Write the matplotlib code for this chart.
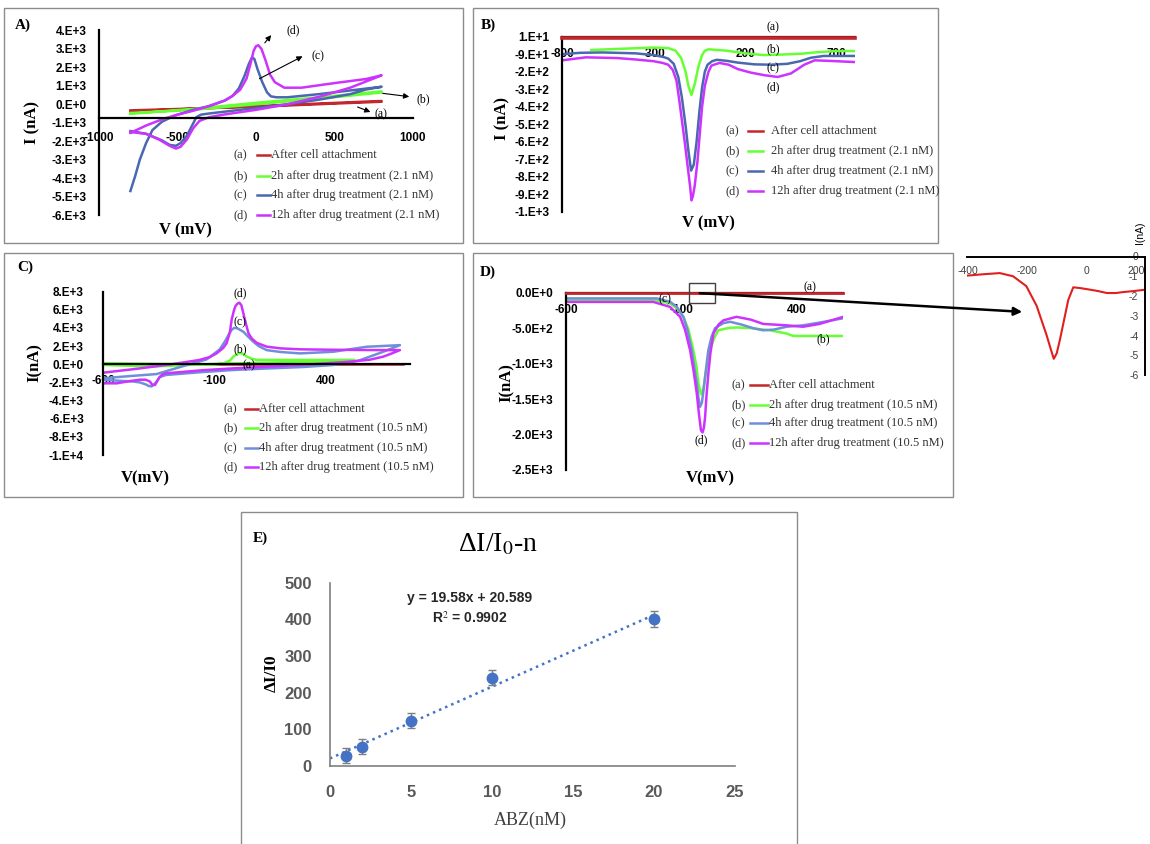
import numpy as np
import matplotlib
matplotlib.use('Agg')
import matplotlib.pyplot as plt
from matplotlib.lines import Line2D
from matplotlib.patches import Rectangle, FancyArrowPatch

plt.rcParams['font.family'] = 'Liberation Serif'
plt.rcParams['mathtext.fontset'] = 'stix'

W, H = 1150, 844
SERIF = 'Liberation Serif'
SANS = 'Liberation Sans'

RED = '#c3262b'
GREEN = '#66ff33'
BLUE = '#4a68b0'
BLUE_LT = '#6f90d8'
PINK = '#cc33ff'

TAGS = ['(a)', '(b)', '(c)', '(d)']

# ---------------- data ----------------
# A) CV, 2.1 nM
a_red_v = [-800, 0, 800, 800, 0, -800]
a_red_i = [-380, -100, 180, 140, -130, -330]
a_green_v = [-800, -400, 0, 400, 800, 800, 400, 0, -400, -800]
a_green_i = [-520, -250, 80, 380, 700, 640, 300, 0, -300, -470]
a_blue_v = [-800, -770, -740, -700, -660, -600, -520, -400, -300, -200, -150, -110, -75, -45, -25, -10,
            10, 40, 70, 95, 130, 200, 400, 600, 800,
            700, 600, 400, 200, 0, -200, -300, -350, -380, -410, -440, -480, -510, -550, -600, -700, -800]
a_blue_i = [-4700, -3900, -3000, -2100, -1400, -950, -620, -300, -100, 200, 450, 850, 1500, 2200, 2550, 2450,
            1900, 1200, 650, 430, 380, 380, 550, 750, 950,
            800, 550, 250, 0, -200, -400, -500, -560, -700, -1200, -1700, -2100, -2250, -2200, -1950, -1600, -1450]
a_pink_v = [-800, -700, -600, -500, -400, -300, -200, -150, -100, -60, -35, -15, 0, 15, 35, 60, 90, 120, 180,
            290, 500, 700, 800,
            750, 600, 400, 200, 0, -200, -300, -360, -400, -440, -480, -510, -550, -620, -700, -800]
a_pink_i = [-1550, -1150, -820, -560, -350, -100, 200, 450, 800, 1400, 2200, 2900, 3150, 3200, 3000, 2400,
            1600, 1200, 900, 900, 1150, 1370, 1570,
            1400, 900, 400, 0, -300, -550, -700, -900, -1300, -1900, -2300, -2400, -2250, -1900, -1600, -1500]

# B) DPV, 2.1 nM
b_red_v = [-800, 800]
b_red_i = [0, 0]
b_green_v = [-640, -500, -300, -220, -180, -150, -125, -110, -93, -75, -55, -35, -20, 0, 100, 200, 300, 400,
             500, 600, 700, 800]
b_green_i = [-66, -60, -52, -55, -70, -110, -190, -270, -323, -260, -160, -95, -70, -62, -70, -85, -95, -92,
             -88, -78, -72, -72]
b_blue_v = [-800, -700, -580, -400, -300, -250, -220, -190, -165, -145, -125, -110, -95, -80, -65, -50, -35,
            -20, -5, 20, 45, 100, 160, 250, 340, 430, 500, 560, 630, 700, 800]
b_blue_i = [-90, -82, -80, -85, -95, -105, -115, -145, -220, -340, -500, -640, -755, -720, -590, -420, -280,
            -190, -150, -130, -122, -128, -138, -148, -150, -145, -130, -110, -100, -100, -100]
b_pink_v = [-800, -670, -500, -400, -300, -250, -220, -195, -175, -160, -145, -130, -115, -100, -93, -85, -75,
            -60, -47, -35, -20, 0, 16, 60, 110, 160, 230, 305, 378, 450, 523, 580, 632, 700, 800]
b_pink_i = [-125, -108, -112, -120, -130, -140, -150, -180, -240, -350, -470, -590, -720, -850, -925, -900,
            -840, -700, -535, -390, -270, -190, -155, -140, -150, -175, -195, -210, -220, -200, -150, -125,
            -127, -130, -135]

# C) CV, 10.5 nM
c_red_v = [-600, 750]
c_red_i = [20, 20]
c_green_v = [-600, -400, -200, -117, -60, -30, -14, 5, 17, 30, 46, 70, 92, 200, 400, 530,
             530, 400, 200, 0, -200, -380, -500, -600]
c_green_i = [110, 60, 0, -70, 100, 400, 850, 1150, 1250, 1150, 850, 600, 480, 480, 480, 480,
             380, 300, 200, 110, -50, -250, -150, -70]
c_blue_v = [-600, -480, -360, -240, -135, -76, -50, -31, -20, -9, 5, 31, 50, 76, 100, 136, 200, 286, 436, 586,
            736, 661, 550, 436, 300, 150, -14, -150, -318, -345, -360, -372, -382, -395, -405, -435, -465,
            -540, -600]
c_blue_i = [-1540, -1300, -1080, -200, 530, 1630, 2600, 3470, 3850, 4020, 3950, 3580, 3100, 2480, 2000, 1560,
            1350, 1200, 1380, 1930, 2110, 1380, 400, -80, -300, -450, -630, -850, -1180, -1400, -1900, -2250,
            -2440, -2400, -2260, -2000, -1900, -1800, -1720]
c_pink_v = [-600, -450, -318, -240, -168, -120, -90, -60, -45, -30, -22, -12, -5, 5, 13, 22, 31, 42, 54, 70,
            92, 136, 200, 286, 436, 586, 736,
            700, 661, 600, 511, 400, 286, 150, -14, -150, -318, -335, -348, -358, -367, -380, -390, -410, -435,
            -480, -540, -600]
c_pink_i = [-925, -500, -80, 200, 470, 800, 1200, 1800, 2300, 3500, 4900, 5900, 6400, 6700, 6790, 6500, 5600,
            4500, 3400, 2800, 2350, 1940, 1750, 1650, 1600, 1570, 1560,
            1200, 840, 500, 290, 100, -80, -250, -450, -650, -1000, -1150, -1450, -1900, -2280, -2250, -1900,
            -1700, -1700, -1850, -2100, -2100]

# D) DPV, 10.5 nM
d_red_v = [-600, 600]
d_red_i = [0, 0]
d_green_v = [-600, -222, -150, -120, -92, -70, -49, -35, -27, -16, -5, 2, 12, 23, 40, 59, 100, 138, 200, 282,
             354, 383, 450, 600]
d_green_i = [-103, -100, -150, -220, -340, -520, -810, -1050, -1280, -1430, -1350, -1190, -1000, -810, -650,
             -530, -500, -490, -500, -530, -575, -610, -610, -610]
d_blue_v = [-600, -208, -150, -120, -92, -75, -56, -45, -34, -27, -20, -12, -5, 5, 16, 30, 45, 80, 110, 160,
            210, 253, 300, 354, 426, 500, 600]
d_blue_i = [-80, -80, -127, -200, -340, -520, -810, -1050, -1280, -1480, -1610, -1550, -1380, -1100, -810,
            -620, -500, -430, -410, -450, -500, -530, -520, -480, -460, -420, -360]
d_pink_v = [-600, -222, -150, -106, -85, -63, -48, -34, -25, -16, -9, -3, 2, 8, 16, 25, 38, 60, 81, 138, 200,
            253, 354, 426, 498, 600]
d_pink_i = [-130, -130, -200, -340, -520, -810, -1100, -1420, -1700, -1940, -1970, -1900, -1750, -1450,
            -1140, -850, -575, -450, -390, -340, -380, -440, -460, -480, -440, -340]

# zoomed inset of (a) in D
z_v = [-405, -350, -293, -248, -203, -168, -134, -120, -110, -100, -89, -75, -61, -44, -20, 13, 40, 70, 100,
       126, 160, 200]
z_i = [-0.97, -0.9, -0.84, -1.0, -1.5, -2.5, -4.0, -4.7, -5.18, -4.9, -4.2, -3.2, -2.2, -1.56, -1.6, -1.68,
       -1.75, -1.85, -1.85, -1.8, -1.75, -1.68]

# E) calibration
abz_nm = [1, 2, 5, 10, 20]
di_i0 = [28, 53, 124, 241, 401]
di_err = [21, 20, 20, 20, 22]
fit_slope = 19.58
fit_icpt = 20.589

legend_21 = ['After cell attachment', '2h after drug treatment (2.1 nM)',
             '4h after drug treatment (2.1 nM)', '12h after drug treatment (2.1 nM)']
legend_105 = ['After cell attachment', '2h after drug treatment (10.5 nM)',
              '4h after drug treatment (10.5 nM)', '12h after drug treatment (10.5 nM)']


def P(x, y):
    # pixel (from top-left) -> figure fraction
    return (x / W, 1 - y / H)


def px_axes(fig, x0, x1, y0, y1):
    return fig.add_axes([x0 / W, 1 - y1 / H, (x1 - x0) / W, (y1 - y0) / H])


def excel_axes(ax, xlim, ylim, xcross, xticks, yticks, ylabels, xpad, ypad, fs=8.5):
    ax.set_facecolor('none')
    ax.set_xlim(*xlim)
    ax.set_ylim(*ylim)
    ax.spines['top'].set_visible(False)
    ax.spines['right'].set_visible(False)
    ax.spines['bottom'].set_position(('data', xcross))
    ax.spines['left'].set_position(('data', xlim[0]))
    for s in ['bottom', 'left']:
        ax.spines[s].set_linewidth(1.6)
    ax.set_xticks(xticks, [str(t) for t in xticks], fontfamily=SANS, fontweight='bold', fontsize=fs)
    ax.set_yticks(yticks, ylabels, fontfamily=SANS, fontweight='bold', fontsize=fs)
    ax.tick_params(axis='x', length=0, pad=xpad)
    ax.tick_params(axis='y', length=0, pad=ypad)


def ftext(fig, x, y, s, fs=8.5, **kw):
    kw.setdefault('ha', 'center')
    kw.setdefault('va', 'center')
    kw.setdefault('fontfamily', SERIF)
    fig.text(*P(x, y), s, fontsize=fs, **kw)


def legend_px(fig, x_tag, x_l0, x_l1, x_txt, ys, labels, colors, fs=9):
    for tag, lab, c, y in zip(TAGS, labels, colors, ys):
        ftext(fig, x_tag, y, tag, fs=fs, ha='left', color='#333333')
        fig.add_artist(Line2D([x_l0 / W, x_l1 / W], [1 - y / H] * 2, color=c, lw=1.8,
                              transform=fig.transFigure))
        ftext(fig, x_txt, y, lab, fs=fs, ha='left', color='#333333')


def arrow_px(fig, x0, y0, x1, y1, lw=0.8, ms=8):
    fig.add_artist(FancyArrowPatch(P(x0, y0), P(x1, y1), transform=fig.transFigure,
                                   arrowstyle='-|>', mutation_scale=ms, color='k', lw=lw))


def box_px(fig, x0, y0, x1, y1, color='#8c8c8c', lw=1.0):
    fig.add_artist(Rectangle(P(x0, y1), (x1 - x0) / W, (y1 - y0) / H, transform=fig.transFigure,
                             fill=False, edgecolor=color, lw=lw))


fig = plt.figure(figsize=(11.5, 8.44), dpi=100)

# panel frames
box_px(fig, 4, 8, 463, 243)
box_px(fig, 473, 8, 938, 243)
box_px(fig, 4, 253, 463, 497)
box_px(fig, 473, 253, 953, 497)
box_px(fig, 241, 512, 797, 850)

lw = 1.8

# ---------------- A ----------------
axA = px_axes(fig, 99, 413, 30.5, 215)
axA.plot(a_red_v, a_red_i, color=RED, lw=lw)
axA.plot(a_green_v, a_green_i, color=GREEN, lw=lw)
axA.plot(a_blue_v, a_blue_i, color=BLUE, lw=lw)
axA.plot(a_pink_v, a_pink_i, color=PINK, lw=lw)
a_yt = list(range(4000, -7000, -1000))
a_yl = ['4.E+3', '3.E+3', '2.E+3', '1.E+3', '0.E+0', '-1.E+3', '-2.E+3', '-3.E+3', '-4.E+3',
        '-5.E+3', '-6.E+3']
excel_axes(axA, (-1000, 1000), (-6000, 4000), -760, [-1000, -500, 0, 500, 1000], a_yt, a_yl, 10, 9)
ftext(fig, 23, 25, 'A)', fs=11, fontweight='bold')
ftext(fig, 32, 123, 'I (nA)', fs=12, fontweight='bold', rotation=90)
ftext(fig, 185, 230, 'V (mV)', fs=12, fontweight='bold')
arrow_px(fig, 263, 45, 273, 33)
ftext(fig, 293, 30, '(d)')
arrow_px(fig, 257, 80, 305, 55)
ftext(fig, 318, 56, '(c)')
arrow_px(fig, 380, 93, 412, 97)
ftext(fig, 423, 99, '(b)')
arrow_px(fig, 355, 106, 373, 113)
ftext(fig, 381, 114, '(a)')
legend_px(fig, 233, 257, 270, 271, [155, 176, 195, 215], legend_21, [RED, GREEN, BLUE, PINK])

# ---------------- B ----------------
axB = px_axes(fig, 562, 855, 36.7, 211.7)
axB.plot(b_green_v, b_green_i, color=GREEN, lw=lw)
axB.plot(b_blue_v, b_blue_i, color=BLUE, lw=lw)
axB.plot(b_pink_v, b_pink_i, color=PINK, lw=lw)
axB.plot(b_red_v, b_red_i, color=RED, lw=2.6, clip_on=False, zorder=5)
b_yt = list(range(10, -1000, -100))
b_yl = ['1.E+1', '-9.E+1'] + ['-%d.E+2' % k for k in range(2, 10)] + ['-1.E+3']
excel_axes(axB, (-800, 800), (-990, 10), 10, [-800, -300, 200, 700], b_yt, b_yl, 8, 9)
ftext(fig, 488, 25, 'B)', fs=11, fontweight='bold')
ftext(fig, 502, 118, 'I (nA)', fs=12, fontweight='bold', rotation=90)
ftext(fig, 708, 223, 'V (mV)', fs=12, fontweight='bold')
for tag, y in zip(TAGS, [27, 49, 68, 87]):
    ftext(fig, 773, y, tag)
legend_px(fig, 726, 748, 763, 771, [131, 151, 171, 191], legend_21, [RED, GREEN, BLUE, PINK])

# ---------------- C ----------------
axC = px_axes(fig, 103.3, 409.7, 291.7, 455)
axC.plot(c_red_v, c_red_i, color=RED, lw=lw)
axC.plot(c_green_v, c_green_i, color=GREEN, lw=lw)
axC.plot(c_blue_v, c_blue_i, color=BLUE_LT, lw=lw)
axC.plot(c_pink_v, c_pink_i, color=PINK, lw=lw)
c_yt = list(range(8000, -12000, -2000))
c_yl = ['8.E+3', '6.E+3', '4.E+3', '2.E+3', '0.E+0', '-2.E+3', '-4.E+3', '-6.E+3', '-8.E+3', '-1.E+4']
excel_axes(axC, (-600, 780), (-10000, 8000), 0, [-600, -100, 400], c_yt, c_yl, 8, 14)
ftext(fig, 25, 267, 'C)', fs=11, fontweight='bold')
ftext(fig, 35, 363, 'I(nA)', fs=12, fontweight='bold', rotation=90)
ftext(fig, 145, 478, 'V(mV)', fs=12, fontweight='bold')
for tag, (x, y) in zip(['(d)', '(c)', '(b)', '(a)'], [(240, 293), (240, 322), (240, 349), (249, 365)]):
    ftext(fig, x, y, tag)
legend_px(fig, 223, 245, 258, 259, [409, 428, 448, 467], legend_105, [RED, GREEN, BLUE_LT, PINK])

# ---------------- D ----------------
axD = px_axes(fig, 566, 843.3, 292.7, 470)
axD.plot(d_green_v, d_green_i, color=GREEN, lw=lw)
axD.plot(d_blue_v, d_blue_i, color=BLUE_LT, lw=lw)
axD.plot(d_pink_v, d_pink_i, color=PINK, lw=lw)
axD.plot(d_red_v, d_red_i, color=RED, lw=2.0, clip_on=False, zorder=5)
d_yt = [0, -500, -1000, -1500, -2000, -2500]
d_yl = ['0.0E+0', '-5.0E+2', '-1.0E+3', '-1.5E+3', '-2.0E+3', '-2.5E+3']
excel_axes(axD, (-600, 600), (-2500, 0), 0, [-600, -100, 400], d_yt, d_yl, 8, 9)
ftext(fig, 488, 272, 'D)', fs=11, fontweight='bold')
ftext(fig, 507, 383, 'I(nA)', fs=12, fontweight='bold', rotation=90)
ftext(fig, 710, 478, 'V(mV)', fs=12, fontweight='bold')
for tag, (x, y) in zip(TAGS, [(810, 287), (823, 339), (665, 299), (701, 440)]):
    ftext(fig, x, y, tag)
legend_px(fig, 732, 750, 768, 769, [385, 405, 423, 443], legend_105, [RED, GREEN, BLUE_LT, PINK])
box_px(fig, 689, 283, 715, 303, color='#404040', lw=1.0)
arrow_px(fig, 697, 293, 1025, 312, lw=1.8, ms=12)

# ---------------- zoom inset ----------------
axZ = px_axes(fig, 966.7, 1145.3, 256.5, 375)
axZ.plot(z_v, z_i, color='#e0201e', lw=1.5)
axZ.set_facecolor('none')
axZ.set_xlim(-405, 200)
axZ.set_ylim(-6, 0)
axZ.spines['top'].set_visible(False)
axZ.spines['right'].set_visible(False)
axZ.spines['bottom'].set_position(('data', 0))
axZ.spines['left'].set_position(('data', 200))
for s in ['bottom', 'left']:
    axZ.spines[s].set_linewidth(1.4)
axZ.set_xticks([-400, -200, 0, 200], ['-400', '-200', '0', '200'], fontfamily=SANS, fontsize=7.5,
               color='#404040')
axZ.get_xticklabels()[-1].set_horizontalalignment('right')
axZ.set_yticks(list(range(0, -7, -1)), ['0', '-1', '-2', '-3', '-4', '-5', '-6'], fontfamily=SANS,
               fontsize=7.5, color='#404040')
axZ.tick_params(axis='x', length=0, pad=7)
axZ.tick_params(axis='y', length=0, pad=5)
fig.text(*P(1140, 233), 'I(nA)', fontsize=7.5, fontfamily=SANS, rotation=90, ha='center', va='center')

# ---------------- E ----------------
axE = px_axes(fig, 330, 735, 582.7, 766)
axE.errorbar(abz_nm, di_i0, yerr=di_err, fmt='o', color='#4472c4', ms=7.5, ecolor='#7f7f7f',
             elinewidth=1.0, capsize=3, zorder=3)
fx = np.array([0, max(abz_nm)])
axE.plot(fx, fit_slope * fx + fit_icpt, ls=':', color='#4472c4', lw=1.8, zorder=2)
axE.set_xlim(0, 25)
axE.set_ylim(0, 500)
axE.set_facecolor('none')
axE.spines['top'].set_visible(False)
axE.spines['right'].set_visible(False)
for s in ['bottom', 'left']:
    axE.spines[s].set_color('#7f7f7f')
    axE.spines[s].set_linewidth(1.2)
axE.set_xticks([0, 5, 10, 15, 20, 25], ['0', '5', '10', '15', '20', '25'], fontfamily=SANS,
               fontweight='bold', fontsize=12, color='#595959')
axE.set_yticks([0, 100, 200, 300, 400, 500], ['0', '100', '200', '300', '400', '500'], fontfamily=SANS,
               fontweight='bold', fontsize=12, color='#595959')
axE.tick_params(axis='x', length=0, pad=14)
axE.tick_params(axis='y', length=0, pad=13)
ftext(fig, 260, 538, 'E)', fs=11, fontweight='bold')
ftext(fig, 498, 545, 'ΔI/I$_0$-n', fs=20)
ftext(fig, 272, 673, 'ΔI/I0', fs=12.5, fontweight='bold', rotation=90)
ftext(fig, 530, 820, 'ABZ(nM)', fs=13, color='#404040')
ftext(fig, 470, 598, 'y = %.2fx + %.3f' % (fit_slope, fit_icpt), fs=10, fontfamily=SANS,
      fontweight='bold', color='#262626')
ftext(fig, 470, 618, 'R$^2$ = 0.9902', fs=10, fontfamily=SANS, fontweight='bold', color='#262626')

plt.savefig('out.png', dpi=100)
